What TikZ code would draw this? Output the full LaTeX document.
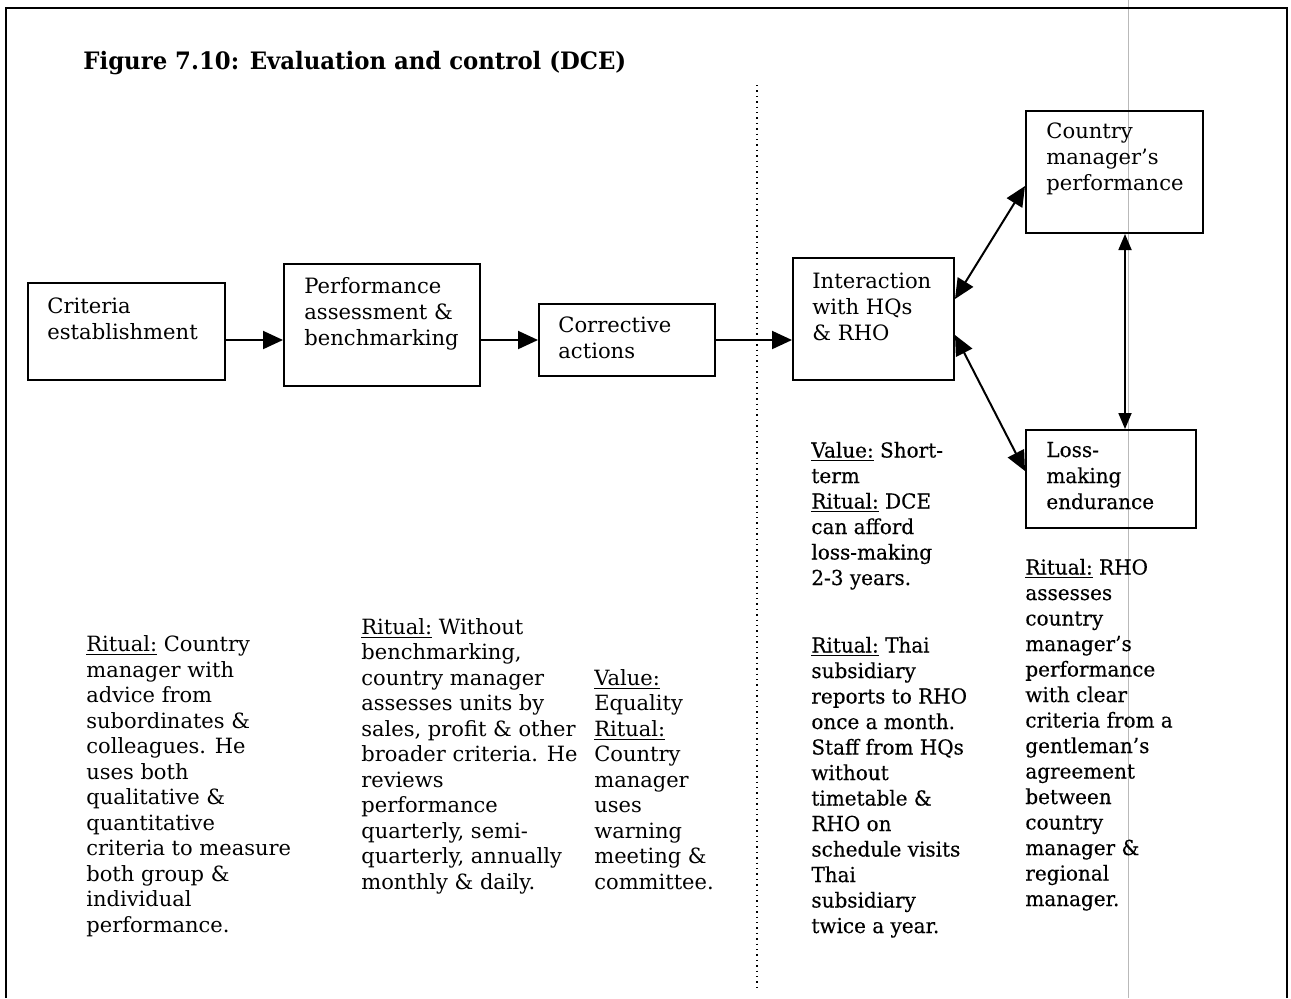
\documentclass[tikz,border=0pt]{standalone}
\usepackage{fontspec}
\setmainfont{DejaVu Serif}
\newfontfamily\titlefont{DejaVu Serif}[FakeStretch=0.95]
\newfontfamily\heavyfont{DejaVu Serif}[FakeBold=0.3,FakeStretch=0.97]
\usetikzlibrary{arrows.meta}
\begin{document}
\begin{tikzpicture}[x=0.5pt,y=-0.5pt,
  box/.style={draw,line width=1pt,inner sep=0pt,anchor=north west},
  % anchored at the baseline of the last line
  txt/.style={anchor=base west,align=left,inner sep=0pt,
    font=\fontsize{10.5pt}{12.75pt}\selectfont},
  htxt/.style={txt,font=\heavyfont\fontsize{10.3pt}{12.75pt}\selectfont},
  btxt/.style={txt,font=\fontsize{10.55pt}{13pt}\selectfont},
  hbtxt/.style={txt,font=\heavyfont\fontsize{10.3pt}{13pt}\selectfont},
  arr/.style={line width=1pt,-{Triangle[length=10pt,width=9pt]}},
  darr/.style={line width=1pt,{Triangle[length=10pt,width=9pt]}-{Triangle[length=10pt,width=9pt]}},
  varr/.style={line width=0.9pt,{Triangle[length=8pt,width=6.5pt]}-{Triangle[length=8pt,width=6.5pt]}}]
\useasboundingbox (0,0) rectangle (1291,998);

% thin rule and frame
\draw[gray!55,line width=0.35pt] (1128,0) -- (1128,998);
\draw[line width=1.1pt] (6,998) -- (6,8) -- (1287,8) -- (1287,998);
\draw[dotted,line width=0.7pt] (757,85) -- (757,990);

% title
\node[anchor=base west,inner sep=0pt,font=\titlefont\bfseries\fontsize{12pt}{14pt}\selectfont]
  (title) at (83,69) {Figure 7.10: Evaluation and control (DCE)};

% boxes
\node[box,minimum width=98.5pt,minimum height=48.5pt] (crit)  at (27,282)  {};
\node[box,minimum width=98pt,minimum height=61pt]     (perf)  at (283,263) {};
\node[box,minimum width=88pt,minimum height=36pt]     (corr)  at (538,303) {};
\node[box,minimum width=80.5pt,minimum height=61pt]   (inter) at (792,257) {};
\node[box,minimum width=88.5pt,minimum height=61pt]   (cmp)   at (1025,110) {};
\node[box,minimum width=85pt,minimum height=49pt]     (loss)  at (1025,429) {};

% box labels
\node[btxt] (tcrit)  at (47,339)   {Criteria\\establishment};
\node[btxt] (tperf)  at (304,345)  {Performance\\assessment \&\\benchmarking};
\node[btxt] (tcorr)  at (558,358)  {Corrective\\actions};
\node[btxt] (tinter) at (812,340)  {Interaction\\with HQs\\\& RHO};
\node[btxt] (tcmp)   at (1046,190) {Country\\manager’s\\performance};
\node[hbtxt] (tloss) at (1046,509) {Loss-\\making\\endurance};

% connectors
\draw[arr] (crit.east |- corr.east) -- (perf.west |- corr.east);
\draw[arr] (perf.east |- corr.east) -- (corr.west);
\draw[arr] (corr.east) -- (inter.west |- corr.east);
\draw[darr] ([yshift=10pt]inter.east) -- ([yshift=-7pt]cmp.west);
\draw[darr] ([yshift=-8pt]inter.east) -- ([yshift=4pt]loss.west);
\draw[varr] ([xshift=5.25pt]cmp.south) -- ([xshift=5.25pt]cmp.south |- loss.north);

% notes
\node[txt] (n1) at (86,932) {\underline{Ritual:} Country\\manager with\\advice from\\subordinates \&\\colleagues. He\\uses both\\qualitative \&\\quantitative\\criteria to measure\\both group \&\\individual\\performance.};
\node[txt] (n2) at (361,889) {\underline{Ritual:} Without\\benchmarking,\\country manager\\assesses units by\\sales, profit \& other\\broader criteria. He\\reviews\\performance\\quarterly, semi-\\quarterly, annually\\monthly \& daily.};
\node[txt] (n3) at (594,889) {\underline{Value:}\\Equality\\\underline{Ritual:}\\Country\\manager\\uses\\warning\\meeting \&\\committee.};
\node[htxt] (n4) at (811,585) {\underline{Value:} Short-\\term\\\underline{Ritual:} DCE\\can afford\\loss-making\\2-3 years.};
\node[htxt] (n5) at (811,933) {\underline{Ritual:} Thai\\subsidiary\\reports to RHO\\once a month.\\Staff from HQs\\without\\timetable \&\\RHO on\\schedule visits\\Thai\\subsidiary\\twice a year.};
\node[htxt] (n6) at (1025,906) {\underline{Ritual:} RHO\\assesses\\country\\manager’s\\performance\\with clear\\criteria from a\\gentleman’s\\agreement\\between\\country\\manager \&\\regional\\manager.};
\end{tikzpicture}
\end{document}
